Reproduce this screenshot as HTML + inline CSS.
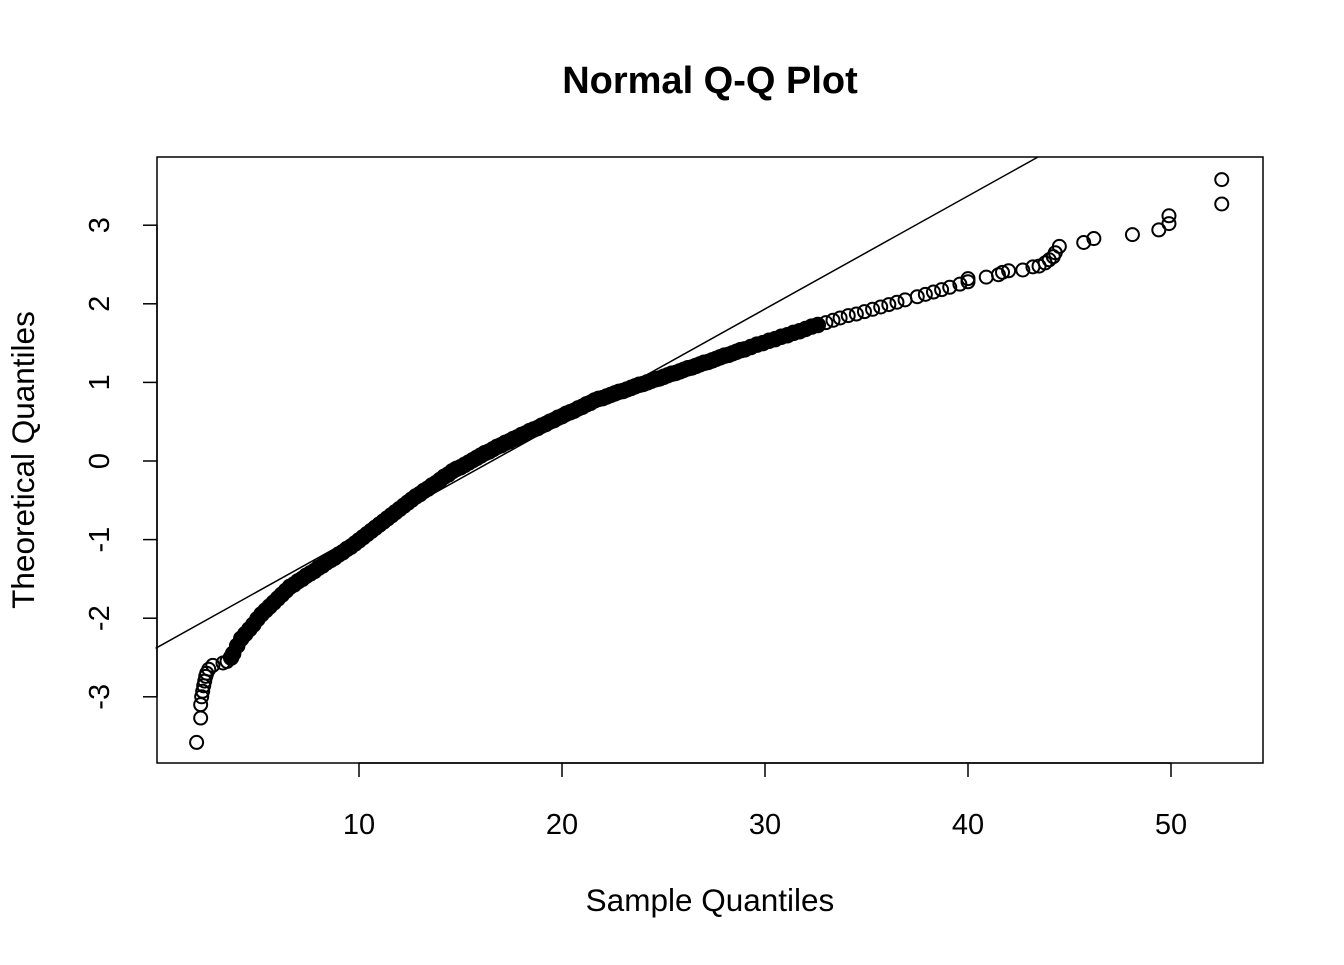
<!DOCTYPE html>
<html><head><meta charset="utf-8"><style>
body{margin:0;background:#fff}
svg text{font-family:"Liberation Sans",Arial,sans-serif;fill:#000}
</style></head><body>
<svg id="chart" width="1344" height="960" xmlns="http://www.w3.org/2000/svg">
<text x="710" y="93" text-anchor="middle" font-size="38" font-weight="bold">Normal Q-Q Plot</text>
<rect x="157" y="157" width="1106" height="606" fill="none" stroke="#000" stroke-width="1.5"/>
<text x="710" y="911" text-anchor="middle" font-size="31.5">Sample Quantiles</text>
<text transform="translate(34,460) rotate(-90)" text-anchor="middle" font-size="31.5">Theoretical Quantiles</text>
<g id="axes"></g>
<g id="pts"></g>
<g id="ref"></g>
</svg>
<script>
const xTicks=[10,20,30,40,50];
const yTicks=[-3,-2,-1,0,1,2,3];
const sampleQ=[2.0,2.2,2.2,2.25,2.3,2.35,2.4,2.45,2.5,2.6,2.8,3.3,3.5,3.7,3.8,4.0,4.2,4.4,4.6,4.8,5.0,5.2,5.4,5.6,5.8,6.0,6.2,6.4,6.6,6.8,7.0,7.2,7.4,7.6,7.8,8.0,8.2,8.4,8.6,8.8,9.0,9.2,9.4,9.6,9.8,10.0,10.2,10.4,10.6,10.8,11.0,11.2,11.4,11.6,11.8,12.0,12.2,12.4,12.6,12.8,13.0,13.2,13.4,13.6,13.8,14.0,14.2,14.4,14.6,14.8,15.0,15.2,15.4,15.6,15.8,16.0,16.2,16.4,16.6,16.8,17.0,17.2,17.4,17.6,17.8,18.0,18.2,18.4,18.6,18.8,19.0,19.2,19.4,19.6,19.8,20.0,20.2,20.4,20.6,20.8,21.0,21.2,21.4,21.6,21.8,22.0,22.2,22.4,22.6,22.8,23.0,23.2,23.4,23.6,23.8,24.0,24.2,24.4,24.6,24.8,25.0,25.2,25.4,25.6,25.8,26.0,26.2,26.4,26.6,26.8,27.0,27.2,27.4,27.6,27.8,28.0,28.2,28.4,28.6,28.8,29.0,29.3,29.6,29.9,30.2,30.5,30.8,31.1,31.4,31.7,32.0,32.3,32.6,33.0,33.35,33.7,34.1,34.5,34.9,35.3,35.7,36.1,36.5,36.9,37.5,37.9,38.3,38.7,39.1,39.6,40.0,40.0,40.9,41.5,41.7,42.0,42.7,43.2,43.5,43.8,44.0,44.2,44.3,44.5,45.7,46.2,48.1,49.4,49.9,49.9,52.5,52.5];
const theoQ=[-3.58,-3.27,-3.1,-3.0,-2.93,-2.86,-2.8,-2.74,-2.7,-2.65,-2.6,-2.57,-2.55,-2.5,-2.45,-2.35,-2.26,-2.2,-2.14,-2.08,-2.01,-1.95,-1.90,-1.85,-1.80,-1.75,-1.70,-1.65,-1.60,-1.57,-1.53,-1.50,-1.46,-1.43,-1.40,-1.36,-1.33,-1.29,-1.26,-1.23,-1.19,-1.16,-1.12,-1.09,-1.05,-1.01,-0.97,-0.93,-0.89,-0.85,-0.81,-0.77,-0.73,-0.69,-0.65,-0.61,-0.57,-0.53,-0.49,-0.45,-0.42,-0.38,-0.35,-0.31,-0.28,-0.24,-0.20,-0.17,-0.13,-0.10,-0.08,-0.05,-0.02,0.01,0.04,0.07,0.10,0.12,0.15,0.18,0.20,0.23,0.25,0.28,0.30,0.33,0.35,0.38,0.40,0.42,0.45,0.47,0.50,0.52,0.55,0.57,0.60,0.62,0.64,0.67,0.69,0.72,0.74,0.77,0.79,0.80,0.82,0.84,0.86,0.88,0.89,0.91,0.93,0.95,0.97,0.98,1.00,1.02,1.04,1.05,1.07,1.09,1.11,1.12,1.14,1.16,1.18,1.19,1.21,1.23,1.25,1.26,1.28,1.30,1.32,1.34,1.35,1.37,1.39,1.41,1.42,1.45,1.48,1.50,1.53,1.55,1.58,1.60,1.63,1.65,1.68,1.71,1.73,1.76,1.79,1.82,1.85,1.87,1.90,1.93,1.96,1.99,2.02,2.05,2.09,2.12,2.15,2.18,2.21,2.25,2.28,2.32,2.34,2.37,2.40,2.42,2.43,2.47,2.48,2.52,2.56,2.60,2.65,2.73,2.78,2.83,2.88,2.94,3.02,3.12,3.27,3.58];
const lineIntercept=-2.38, lineSlope=0.1438;
const X=v=>359+(v-10)*20.3, Y=v=>461-v*78.6;
const NS="http://www.w3.org/2000/svg";
const axes=document.getElementById('axes');
function mk(tag,attrs,parent){const e=document.createElementNS(NS,tag);for(const k in attrs)e.setAttribute(k,attrs[k]);parent.appendChild(e);return e;}
mk('line',{x1:X(10),x2:X(50),y1:763,y2:763,stroke:'#000','stroke-width':1.5},axes);
mk('line',{x1:157,x2:157,y1:Y(-3),y2:Y(3),stroke:'#000','stroke-width':1.5},axes);
xTicks.forEach(t=>{
  const l=mk('line',{x1:X(t),x2:X(t),y1:763,y2:777,stroke:'#000','stroke-width':1.5},axes);
  
  
  const tx=mk('text',{x:X(t),y:834,'text-anchor':'middle','font-size':29},axes);tx.textContent=t;
  
  
});
yTicks.forEach(t=>{
  const l=mk('line',{x1:143,x2:157,y1:Y(t),y2:Y(t),stroke:'#000','stroke-width':1.5},axes);
  
  
  const tx=mk('text',{transform:`translate(109,${Y(t)}) rotate(-90)`,'text-anchor':'middle','font-size':29},axes);tx.textContent=t;
  
  
});
const pts=document.getElementById('pts');
sampleQ.forEach((s,i)=>{
  const nxt=i<sampleQ.length-1?sampleQ[i+1]-s:99;
  const dense=s>3.5&&s<33&&nxt<0.4;
  const c=mk('circle',{cx:X(s),cy:Y(theoQ[i]),r:dense?7.5:6.5,fill:dense?'#000':'none',stroke:'#000','stroke-width':dense?1.5:2},pts);
  
  
});
const ref=document.getElementById('ref');
const xa=-0.02, xb=54.53;
const xEnd=Math.min(xb,(3.868-lineIntercept)/lineSlope);
const ln=mk('line',{x1:X(xa),y1:Y(lineIntercept+lineSlope*xa),x2:X(xEnd),y2:Y(lineIntercept+lineSlope*xEnd),stroke:'#000','stroke-width':1.5},ref);


</script>
</body></html>
